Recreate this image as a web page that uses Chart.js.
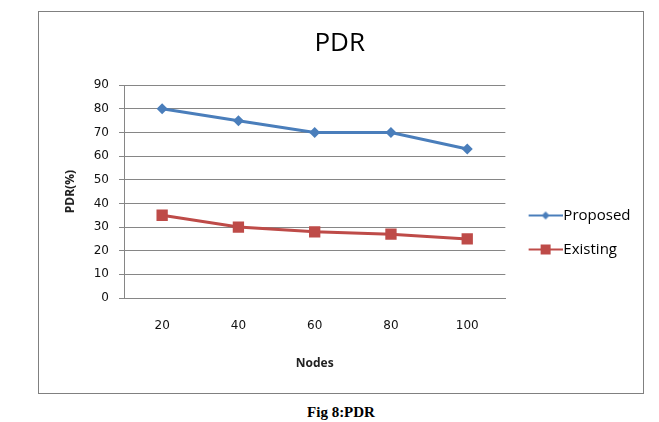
<!DOCTYPE html>
<html lang="en">
<head>
  <meta charset="UTF-8">
  <title>PDR</title>
  <style type="text/css">
    body, html {
      margin: 0;
      padding: 0;
      background-color: #fff;
      width: 659px;
      height: 422px;
      overflow: hidden;
    }

    .chart-box {
      position: absolute;
      left: 38px;
      top: 11px;
      width: 604px;
      height: 381px;
      border: 1px solid #808080;
    }

    .caption {
      position: absolute;
      left: 0;
      top: 404px;
      width: 682px;
      line-height: 17px;
      text-align: center;
      font-family: "Liberation Serif", serif;
      font-weight: bold;
      font-size: 15px;
      color: #000;
    }
  </style>
  <script src="https://cdn.jsdelivr.net/npm/chart.js"></script>
</head>
<body>

  <div class="chart-box">
    <canvas id="pdr-chart" width="604" height="381"></canvas>
  </div>
  <div class="caption">Fig 8:PDR</div>

  <script>
    // values
    const nodes = ['20', '40', '60', '80', '100'];
    const proposed = [80, 75, 70, 70, 63];
    const existing = [35, 30, 28, 27, 25];
    const yTicks = [0, 10, 20, 30, 40, 50, 60, 70, 80, 90];

    const blue = '#4a7ebb';
    const red = '#be4b48';
    const gridGray = '#868686';

    // line + marker picture for the legend (left part left blank on purpose,
    // so the visible sample sits right against the label text)
    function legendIcon(color, shape) {
      const c = document.createElement('canvas');
      c.width = 45;
      c.height = 12;
      const g = c.getContext('2d');
      g.strokeStyle = color;
      g.lineWidth = 2;
      g.beginPath();
      g.moveTo(11, 6);
      g.lineTo(45, 6);
      g.stroke();
      g.fillStyle = color;
      if (shape === 'diamond') {
        g.beginPath();
        g.moveTo(28, 2);
        g.lineTo(32, 6);
        g.lineTo(28, 10);
        g.lineTo(24, 6);
        g.closePath();
        g.fill();
      } else {
        g.fillRect(23, 1, 10, 10);
      }
      return c;
    }

    const icons = [legendIcon(blue, 'diamond'), legendIcon(red, 'square')];

    const ctx = document.getElementById('pdr-chart').getContext('2d');
    const chart = new Chart(ctx, {
      type: 'line',
      data: {
        labels: nodes,
        datasets: [{
          label: 'Proposed',
          data: proposed,
          borderColor: blue,
          backgroundColor: blue,
          borderWidth: 3,
          pointStyle: 'rectRot',
          pointRadius: 5.5,
          pointBorderWidth: 0,
          tension: 0
        }, {
          label: 'Existing',
          data: existing,
          borderColor: red,
          backgroundColor: red,
          borderWidth: 3,
          pointStyle: 'rect',
          pointRadius: 8,
          pointBorderWidth: 0,
          tension: 0
        }]
      },
      options: {
        responsive: false,
        animation: false,
        layout: {
          padding: { right: 2.5 }
        },
        plugins: {
          title: {
            display: true,
            text: 'PDR',
            color: '#000',
            font: { family: 'Open Sans', size: 26, weight: 'normal', lineHeight: 1.2 },
            padding: { top: 16, bottom: 26 }
          },
          legend: {
            position: 'right',
            // empty title only pushes the items down a bit
            title: {
              display: true,
              text: '',
              padding: 0,
              font: { size: 50, lineHeight: 1.2 }
            },
            labels: {
              usePointStyle: true,
              pointStyleWidth: 31.5,
              padding: 19,
              color: '#000',
              font: { family: 'Open Sans', size: 15 },
              generateLabels: function(c) {
                return c.data.datasets.map(function(ds, i) {
                  return {
                    text: ds.label,
                    fontColor: '#000',
                    pointStyle: icons[i],
                    fillStyle: ds.borderColor,
                    strokeStyle: ds.borderColor,
                    lineWidth: 0,
                    datasetIndex: i
                  };
                });
              }
            }
          },
          tooltip: { enabled: false }
        },
        scales: {
          x: {
            offset: true,
            grid: { display: false, drawTicks: false },
            border: { color: gridGray },
            ticks: {
              padding: 21,
              color: '#111',
              font: { family: 'DejaVu Sans', size: 12 }
            },
            title: {
              display: true,
              text: 'Nodes',
              color: '#222',
              font: { family: 'Open Sans', size: 12, weight: 'bold' },
              padding: { top: 0, bottom: 22 }
            },
            afterFit: function(scale) { scale.height = 95; }
          },
          y: {
            min: 0,
            max: 90,
            afterBuildTicks: function(scale) {
              scale.ticks = yTicks.map(function(v) { return { value: v }; });
            },
            grid: { color: gridGray, tickLength: 5 },
            border: { color: gridGray },
            ticks: {
              padding: 10,
              color: '#111',
              font: { family: 'DejaVu Sans', size: 12 }
            },
            title: {
              display: true,
              text: 'PDR(%)',
              color: '#222',
              font: { family: 'Open Sans', size: 12, weight: 'bold' },
              padding: { top: 24, bottom: 0 }
            },
            afterFit: function(scale) { scale.width = 85; }
          }
        }
      }
    });
  </script>
</body>
</html>
